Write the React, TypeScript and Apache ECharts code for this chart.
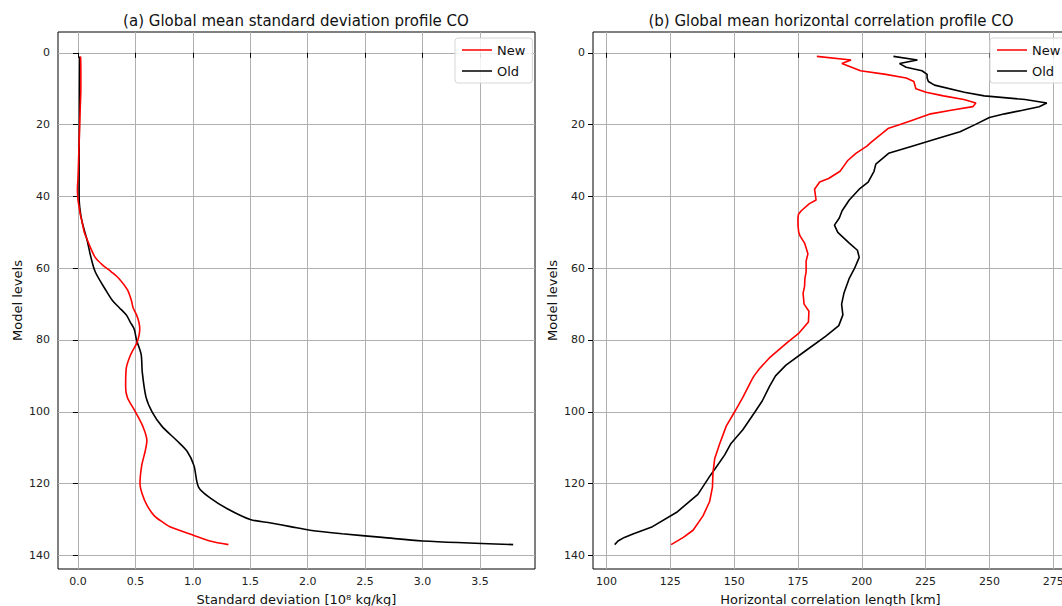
import React, { useEffect, useRef } from "react";
import * as echarts from "echarts";

// ---------- Data ----------
// Panel (a): standard deviation [10^8 kg/kg] per model level
const stdLevelsNew = [1, 5, 10, 15, 20, 25, 30, 35, 38, 41, 43, 45, 47, 50, 52, 54, 57, 59, 61, 63, 66, 69, 71, 73, 75, 77, 79, 81, 84, 88, 93, 96, 100, 104, 108, 111, 115, 120, 123, 126, 129, 131, 132, 134, 136, 137];
const stdNew = [0.023, 0.025, 0.025, 0.02, 0.015, 0.01, 0.005, 0.0, -0.005, 0.0, 0.01, 0.02, 0.035, 0.055, 0.08, 0.105, 0.15, 0.21, 0.29, 0.36, 0.43, 0.465, 0.48, 0.51, 0.53, 0.538, 0.53, 0.51, 0.46, 0.42, 0.415, 0.43, 0.5, 0.564, 0.6, 0.585, 0.555, 0.54, 0.56, 0.6, 0.665, 0.75, 0.8, 0.97, 1.15, 1.31];

const stdLevelsOld = [1, 10, 20, 30, 40, 43, 47, 52, 57, 61, 66, 69, 71, 73, 75, 77, 80, 84, 89, 96, 100, 104, 108, 111, 115, 121, 124, 127, 130, 131, 132, 133, 134, 135, 136, 137];
const stdOld = [0.015, 0.013, 0.012, 0.01, 0.01, 0.015, 0.035, 0.078, 0.113, 0.15, 0.24, 0.3, 0.36, 0.42, 0.455, 0.49, 0.51, 0.55, 0.56, 0.593, 0.645, 0.73, 0.86, 0.95, 1.01, 1.05, 1.15, 1.3, 1.5, 1.68, 1.85, 2.02, 2.3, 2.65, 3.0, 3.79];

// Panel (b): horizontal correlation length [km] per model level
const corrLevelsNew = [1, 2, 3, 4, 5, 6, 7, 8, 10, 11, 12, 13, 14, 15, 16, 17, 19, 20, 21, 23, 25, 26, 28, 30, 31, 33, 35, 36, 38, 41, 42, 44, 45, 46, 48, 50, 51, 53, 56, 58, 61, 63, 65, 67, 70, 72, 75, 78, 81, 85, 88, 90, 91, 96, 100, 104, 109, 113, 117, 121, 125, 129, 133, 135, 137];
const corrNew = [182.4, 195.8, 192.2, 196.0, 199.5, 209.4, 217.4, 220.4, 221.2, 225.2, 232.0, 240.0, 244.7, 243.5, 235.0, 227.0, 219.0, 215.0, 210.5, 207.0, 203.5, 202.0, 197.7, 194.5, 193.5, 191.5, 187.0, 183.5, 181.5, 182.1, 179.5, 176.3, 175.2, 175.0, 175.0, 175.3, 175.8, 177.6, 178.9, 178.2, 178.2, 177.7, 177.6, 177.0, 177.4, 179.3, 179.1, 175.5, 170.3, 163.8, 159.9, 157.8, 157.0, 153.4, 150.2, 146.9, 144.3, 142.4, 141.7, 141.5, 140.4, 137.8, 133.9, 130.1, 125.3];

const corrLevelsOld = [1, 2, 3, 4, 5, 6, 7, 8, 9, 11, 12, 13, 14, 15, 16, 17, 18, 20, 22, 24, 26, 28, 31, 33, 36, 38, 41, 44, 46, 48, 50, 53, 55, 57, 60, 63, 67, 70, 73, 76, 79, 83, 87, 90, 93, 97, 100, 105, 109, 112, 116, 118, 123, 128, 132, 134, 135, 136, 137];
const corrOld = [212.4, 221.8, 214.8, 217.4, 223.6, 225.6, 225.6, 226.1, 228.5, 240.2, 248.0, 264.0, 272.5, 269.5, 263.0, 256.0, 250.0, 244.4, 238.5, 229.0, 219.7, 210.5, 205.5, 204.8, 202.5, 199.0, 195.1, 192.3, 191.2, 189.3, 190.6, 195.1, 198.3, 199.0, 197.2, 195.0, 193.0, 192.1, 192.6, 191.0, 185.8, 178.0, 170.3, 166.2, 163.8, 161.0, 158.2, 153.4, 148.6, 146.3, 142.4, 140.4, 135.8, 127.5, 118.0, 110.6, 107.0, 104.5, 103.2];

// Tick labels
const levelTicks = [0, 20, 40, 60, 80, 100, 120, 140];
const stdTicks = [0, 0.5, 1.0, 1.5, 2.0, 2.5, 3.0, 3.5];
const corrTicks = [100, 125, 150, 175, 200, 225, 250, 275];

const titleA = "(a) Global mean standard deviation profile CO";
const titleB = "(b) Global mean horizontal correlation profile CO";
const xNameA = "Standard deviation [10⁸ kg/kg]";
const xNameB = "Horizontal correlation length [km]";
const yName = "Model levels";
const legendNames = ["New", "Old"];

const FONT = "'DejaVu Sans', 'Liberation Sans', sans-serif";
// legend key: a thin horizontal line inside a 30x14 box
const LINE_ICON = "path://M0,0 L0.01,0 L0,0.01 Z M0,6.2 L30,6.2 L30,7.8 L0,7.8 Z M29.99,14 L30,14 L30,13.99 Z";

function pairs(xs: number[], ls: number[]) {
  return ls.map((l, i) => [xs[i], l]);
}

export default function App() {
  const ref = useRef<HTMLDivElement>(null);

  useEffect(() => {
    if (!ref.current) return;
    const chart = echarts.init(ref.current, undefined, { renderer: "svg" });

    const gridCommon = {
      top: 32,
      height: 537,
      show: true,
      borderColor: "#000",
      borderWidth: 1,
      backgroundColor: "transparent",
      containLabel: false,
      outerBoundsMode: "none",
    };

    const mkX = (gridIndex: number, min: number, max: number, ticks: number[], name: string, fmt: (v: number) => string) => ({
      type: "value",
      gridIndex,
      min,
      max,
      name,
      nameLocation: "middle",
      nameGap: 24,
      nameTextStyle: { fontSize: 13, color: "#111", fontFamily: FONT },
      axisLine: { show: false },
      axisTick: { show: true, length: 5, customValues: ticks, lineStyle: { color: "#000" } },
      axisLabel: { customValues: ticks, margin: 7, fontSize: 11, color: "#222", fontFamily: FONT, formatter: (v: number) => fmt(v) },
      splitLine: { show: true, lineStyle: { color: "#b0b0b0", width: 1 } },
    });

    const mkY = (gridIndex: number) => ({
      type: "value",
      gridIndex,
      inverse: true,
      min: -5.8,
      max: 143.8,
      name: yName,
      nameLocation: "middle",
      nameGap: 34,
      nameTextStyle: { fontSize: 13, color: "#111", fontFamily: FONT },
      axisLine: { show: false },
      axisTick: { show: true, length: 5, customValues: levelTicks, lineStyle: { color: "#000" } },
      axisLabel: { customValues: levelTicks, margin: 8, fontSize: 11, color: "#222", fontFamily: FONT },
      splitLine: { show: true, lineStyle: { color: "#b0b0b0", width: 1 } },
    });

    const legendCommon = {
      orient: "vertical",
      top: 38,
      data: legendNames.map((n) => ({ name: n, icon: LINE_ICON })),
      itemWidth: 30,
      itemHeight: 14,
      itemGap: 7,
      padding: [5, 7, 5, 7],
      backgroundColor: "rgba(255,255,255,0.85)",
      borderColor: "#d6d6d6",
      borderWidth: 1,
      borderRadius: 3,
      textStyle: { fontSize: 13, color: "#111", fontFamily: FONT },
      selectedMode: false,
    };

    const lineSeries = (name: string, color: string, data: number[][], idx: number, smooth: number | boolean) => ({
      type: "line",
      name,
      xAxisIndex: idx,
      yAxisIndex: idx,
      data,
      symbol: "none",
      showSymbol: false,
      smooth,
      lineStyle: { color, width: 1.6 },
      itemStyle: { color },
      z: name === "New" ? 3 : 2,
    });

    chart.setOption({
      animation: false,
      backgroundColor: "#fff",
      textStyle: { fontFamily: FONT },
      grid: [
        { ...gridCommon, left: 58, width: 477 },
        { ...gridCommon, left: 593, width: 475 },
      ],
      xAxis: [
        mkX(0, -0.174, 3.98, stdTicks, xNameA, (v) => v.toFixed(1)),
        mkX(1, 94.7, 280.8, corrTicks, xNameB, (v) => String(Math.round(v))),
      ],
      yAxis: [mkY(0), mkY(1)],
      legend: [
        { ...legendCommon, left: 455 },
        { ...legendCommon, left: 990 },
      ],
      graphic: [
        {
          type: "text",
          x: 296,
          y: 21,
          style: { text: titleA, align: "center", verticalAlign: "middle", fontSize: 15, fontFamily: FONT, fill: "#111" },
        },
        {
          type: "text",
          x: 831,
          y: 21,
          style: { text: titleB, align: "center", verticalAlign: "middle", fontSize: 15, fontFamily: FONT, fill: "#111" },
        },
      ],
      series: [
        lineSeries("Old", "#000000", pairs(stdOld, stdLevelsOld), 0, 0.3),
        lineSeries("New", "#ff0000", pairs(stdNew, stdLevelsNew), 0, 0.3),
        lineSeries("Old", "#000000", pairs(corrOld, corrLevelsOld), 1, false),
        lineSeries("New", "#ff0000", pairs(corrNew, corrLevelsNew), 1, false),
      ],
    });

    return () => chart.dispose();
  }, []);

  return (
    <div
      ref={ref}
      style={{ position: "fixed", left: 0, top: 0, width: 1062, height: 606, background: "#fff" }}
    />
  );
}
